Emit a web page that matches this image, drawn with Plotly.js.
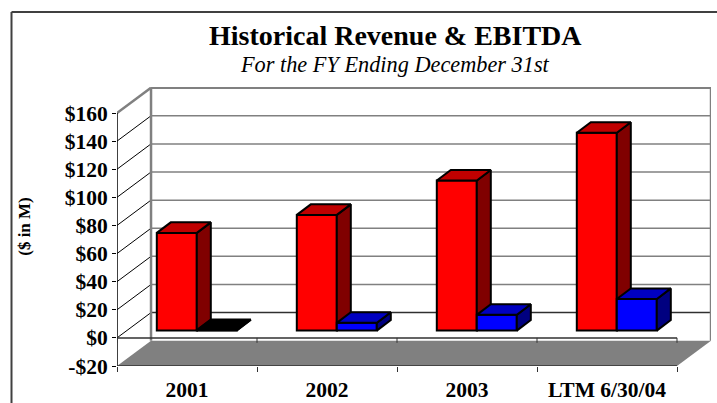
<!DOCTYPE html>
<html>
<head>
<meta charset="utf-8">
<script src="https://cdn.plot.ly/plotly-3.0.1.min.js"></script>
<style>html,body{margin:0;padding:0;background:#fff;overflow:hidden}</style>
</head>
<body>
<div id="chart" style="width:717px;height:403px"></div>
<script>
// --- data ---
const categories = ['2001', '2002', '2003', 'LTM 6/30/04'];
const revenue = [69.5, 82.3, 106.8, 140.7];
const ebitda = [0.3, 5.5, 11.2, 22.5];
const valueTicks = [-20, 0, 20, 40, 60, 80, 100, 120, 140, 160];
const tickLabels = ['-$20', '$0', '$20', '$40', '$60', '$80', '$100', '$120', '$140', '$160'];
const titleText = 'Historical Revenue & EBITDA';
const subtitleText = 'For the FY Ending December 31st';
const axisTitleText = '($ in M)';

// --- oblique projection, in axis units ---
const nCat = categories.length;
const wallDx = 0.243, wallDy = 18;      // full depth of the chart box
const baseDx = 0.07, baseDy = 5.2;      // bars stand part-way into the box
const barDx = 0.1, barDy = 7.5;         // depth of each bar
const barW = 40 / 140;
const yMin = -20, yMax = 160;
const font = 'Liberation Serif, Times New Roman, serif';

const centers = categories.map((c, i) => i + 0.5 + baseDx);
const frontX = (i, w0) => centers[i] + w0 * barW;

function poly(pts, fill, xa, ya) {
  const p = pts.concat([pts[0]]);
  return {
    x: p.map(q => q[0]), y: p.map(q => q[1]), xaxis: xa, yaxis: ya,
    type: 'scatter', mode: 'lines', fill: 'toself', fillcolor: fill,
    line: {color: '#000', width: 2, join: 'miter'}, hoverinfo: 'skip', showlegend: false
  };
}
function sideFaces(values, w0, sideColor, topColor, xa, ya) {
  const out = [];
  values.forEach((v, i) => {
    const l = frontX(i, w0), r = l + barW, b = baseDy, t = baseDy + v;
    out.push(poly([[r, b], [r + barDx, b + barDy], [r + barDx, t + barDy], [r, t]], sideColor(v), xa, ya));
    out.push(poly([[l, t], [r, t], [r + barDx, t + barDy], [l + barDx, t + barDy]], topColor(v), xa, ya));
  });
  return out;
}
function frontBars(values, w0, color, xa, ya, name) {
  return {
    type: 'bar', name: name, xaxis: xa, yaxis: ya,
    x: values.map((v, i) => centers[i] + w0 * barW + barW / 2),
    y: values, base: values.map(() => baseDy), width: barW,
    marker: {color: values.map(v => v < 1 ? '#000' : color), line: {color: '#000', width: 2}},
    hoverinfo: 'skip', showlegend: false
  };
}

const data = [
  frontBars(revenue, -1, '#FF0000', 'x', 'y', 'Revenue'),
  ...sideFaces(revenue, -1, () => '#800000', () => '#C00000', 'x', 'y'),
  frontBars(ebitda, 0, '#0000FF', 'x2', 'y2', 'EBITDA'),
  ...sideFaces(ebitda, 0, v => v < 1 ? '#000' : '#000080', v => v < 1 ? '#000' : '#0000C0', 'x2', 'y2')
];

// --- chart box ---
const GRAY = '#808080', DARK = '#303030';
const line = (x0, y0, x1, y1, color, width) => ({
  type: 'line', xref: 'x', yref: 'y', x0, y0, x1, y1, layer: 'below',
  line: {color, width}
});
const shapes = [
  {type: 'path', xref: 'x', yref: 'y', layer: 'below', fillcolor: GRAY, line: {width: 0},
   path: `M0,${yMin} L${wallDx},${yMin + wallDy} L${nCat + wallDx},${yMin + wallDy} L${nCat},${yMin} Z`}
];
valueTicks.forEach(v => {
  if (v === yMin) return;
  if (v === yMax) return;
  shapes.push(line(wallDx, v + wallDy, nCat + wallDx, v + wallDy, v === 0 ? DARK : GRAY, 1.5));
  shapes.push(line(0, v, wallDx, v + wallDy, '#000', 1));
});
shapes.push(line(wallDx, yMin + wallDy, wallDx, yMax + wallDy, GRAY, 2.5));
shapes.push(line(nCat + wallDx, yMin + wallDy, nCat + wallDx, yMax + wallDy, GRAY, 2.5));
shapes.push(line(wallDx, yMax + wallDy, nCat + wallDx, yMax + wallDy, GRAY, 2.5));
shapes.push(line(0, yMax, wallDx, yMax + wallDy, GRAY, 2.5));
shapes.push(line(0, yMin, 0, yMax, '#000', 1.5));
shapes.push(line(0, 0, nCat, 0, DARK, 1.5));
shapes.push(line(0, yMin, nCat, yMin, DARK, 1.5));
for (let i = 0; i <= nCat; i++) shapes.push(line(i, 0, i, -3.5, DARK, 1));
// outer frame of the slide
shapes.push({type: 'line', xref: 'paper', yref: 'paper', x0: -105.5 / 594, x1: 1.02, y0: 1 + 75 / 279, y1: 1 + 75 / 279, line: {color: '#404040', width: 2}});
shapes.push({type: 'line', xref: 'paper', yref: 'paper', x0: -105.5 / 594, x1: -105.5 / 594, y0: 1 + 75 / 279, y1: -0.2, line: {color: '#404040', width: 2}});

const yTop = yMin + 279 / (253 / 180);
const xRight = 594 / 140;

const layout = {
  width: 717, height: 403, autosize: false, showlegend: false,
  paper_bgcolor: '#fff', plot_bgcolor: '#fff',
  margin: {l: 117, r: 6, t: 87, b: 37, pad: 0},
  barmode: 'overlay',
  xaxis: {
    range: [0, xRight], showgrid: false, zeroline: false, showline: false, fixedrange: true,
    tickmode: 'array', tickvals: categories.map((c, i) => i + 0.5), ticktext: categories,
    ticks: '', ticklabelstandoff: 8,
    tickfont: {family: font, size: 21.5, color: '#000', weight: 'bold'},
    minor: {tickmode: 'array', tickvals: [0, 1, 2, 3, 4], ticks: 'outside', ticklen: 5, tickwidth: 1, tickcolor: DARK, showgrid: false}
  },
  yaxis: {
    range: [yMin, yTop], showgrid: false, zeroline: false, showline: false, fixedrange: true,
    tickmode: 'array', tickvals: valueTicks, ticktext: tickLabels,
    ticks: 'outside', ticklen: 4, tickwidth: 1, tickcolor: '#000',
    ticklabelstandoff: 0,
    tickfont: {family: font, size: 21.5, color: '#000', weight: 'bold'},
    title: {text: axisTitleText, standoff: 29, font: {family: font, size: 17, color: '#000', weight: 'bold'}}
  },
  xaxis2: {range: [0, xRight], overlaying: 'x', visible: false, fixedrange: true},
  yaxis2: {range: [yMin, yTop], overlaying: 'y', visible: false, fixedrange: true},
  shapes,
  annotations: [
    {text: titleText, xref: 'paper', yref: 'paper', x: (395 - 117) / 594, y: 1 + 52 / 279, xanchor: 'center', yanchor: 'middle', showarrow: false,
     font: {family: font, size: 28, color: '#000', weight: 'bold'}},
    {text: '<i>' + subtitleText + '</i>', xref: 'paper', yref: 'paper', x: (395 - 117) / 594, y: 1 + 23 / 279, xanchor: 'center', yanchor: 'middle', showarrow: false,
     font: {family: font, size: 22.3, color: '#000'}}
  ]
};
Plotly.newPlot('chart', data, layout, {displayModeBar: false, staticPlot: true});
</script>
</body>
</html>
